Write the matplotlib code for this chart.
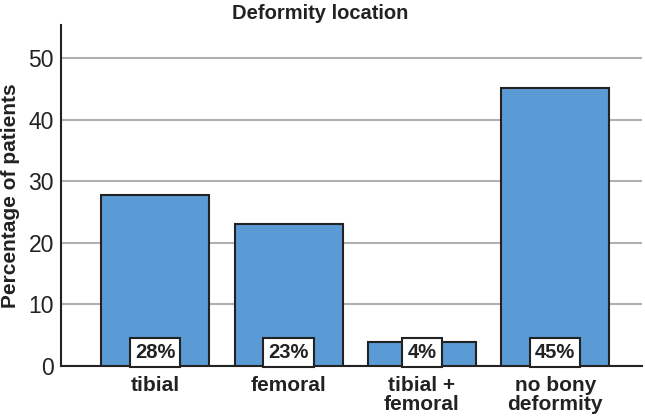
import matplotlib
matplotlib.use('Agg')
import matplotlib.pyplot as plt

categories = ['tibial', 'femoral', 'tibial +\nfemoral', 'no bony\ndeformity']
values = [27.8, 23.1, 3.9, 45.2]
labels = ['28%', '23%', '4%', '45%']
yticks = [0, 10, 20, 30, 40, 50]

plt.rcParams['font.family'] = ['Liberation Sans', 'DejaVu Sans']

fig = plt.figure(figsize=(6.45, 4.17), dpi=100)
ax = fig.add_axes([61 / 645, 1 - 366 / 417, 581 / 645, 341 / 417])

x = list(range(len(categories)))
ax.bar(x, values, width=0.81, color='#5b9bd5', edgecolor='#222222', linewidth=1.5, zorder=3)

for xi, lab in zip(x, labels):
    ax.text(xi, 0.6, lab, ha='center', va='bottom', fontsize=14.5, fontweight='bold',
            color='#222222', zorder=5,
            bbox=dict(boxstyle='square,pad=0.25', facecolor='white', edgecolor='#222222', linewidth=1.5))

ax.set_xlim(-0.707, 3.65)
ax.set_ylim(0, 55.4)
ax.set_yticks(yticks)
ax.set_xticks(x)
ax.set_xticklabels(categories, fontsize=15, fontweight='bold', color='#222222', linespacing=1.05)
ax.tick_params(axis='y', labelsize=16.5, colors='#222222', length=0, pad=5)
ax.tick_params(axis='x', length=0, pad=7)
ax.yaxis.grid(True, color='#b0b0b0', linewidth=1.5, zorder=0)
ax.set_axisbelow(True)

for s in ['top', 'right']:
    ax.spines[s].set_visible(False)
ax.spines['left'].set_color('#222222')
ax.spines['bottom'].set_color('#222222')
ax.spines['left'].set_linewidth(1.5)
ax.spines['bottom'].set_linewidth(1.5)

ax.set_ylabel('Percentage of patients', fontsize=15, fontweight='bold', color='#222222', labelpad=6)
fig.suptitle('Deformity location', x=0.497, y=0.99, fontsize=14.5, fontweight='bold', color='#222222')

fig.savefig('out.png', dpi=100)
